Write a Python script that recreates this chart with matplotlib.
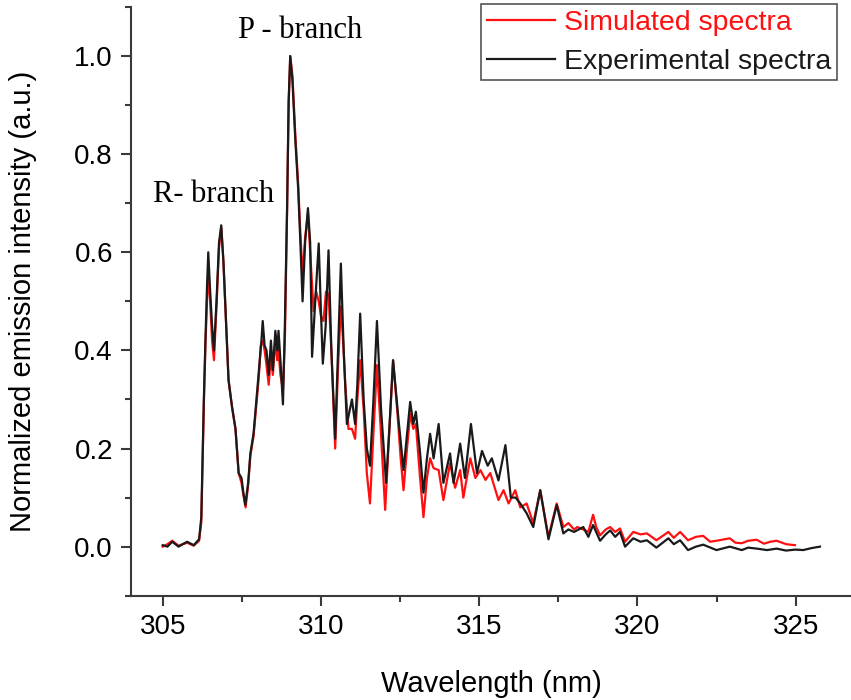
import numpy as np
import matplotlib.pyplot as plt

plt.rcParams['font.family'] = ['Liberation Sans', 'DejaVu Sans']

# experimental spectrum (black)
exp_wl = [305.00, 305.15, 305.30, 305.50, 305.77, 305.98, 306.15, 306.22, 306.26, 306.30,
          306.35, 306.40, 306.44, 306.50, 306.56, 306.62, 306.70, 306.78, 306.85, 306.92,
          306.98, 307.08, 307.19, 307.30, 307.40, 307.49, 307.55, 307.61, 307.70, 307.77,
          307.87, 308.03, 308.12, 308.16, 308.22, 308.28, 308.35, 308.42, 308.48, 308.56,
          308.62, 308.66, 308.72, 308.80, 308.86, 308.93, 308.98, 309.03, 309.10, 309.19,
          309.28, 309.35, 309.42, 309.50, 309.59, 309.66, 309.72, 309.82, 309.93, 310.00,
          310.06, 310.15, 310.24, 310.33, 310.45, 310.54, 310.63, 310.72, 310.82, 310.98,
          311.08, 311.15, 311.24, 311.35, 311.45, 311.55, 311.66, 311.77, 311.90, 312.06,
          312.17, 312.28, 312.45, 312.61, 312.72, 312.82, 312.92, 313.00, 313.12, 313.24,
          313.35, 313.45, 313.56, 313.72, 313.87, 314.08, 314.19, 314.30, 314.40, 314.55,
          314.74, 314.93, 315.09, 315.27, 315.40, 315.61, 315.83, 316.00, 316.15, 316.30,
          316.50, 316.71, 316.93, 317.19, 317.45, 317.66, 317.82, 318.00, 318.29, 318.45,
          318.60, 318.82, 319.00, 319.14, 319.30, 319.45, 319.61, 319.87, 320.10, 320.30,
          320.60, 320.98, 321.15, 321.35, 321.60, 321.85, 322.08, 322.50, 322.92, 323.30,
          323.50, 323.77, 324.10, 324.40, 324.70, 325.00, 325.24, 325.50, 325.77]
exp_int = [0.003, 0.000, 0.010, 0.000, 0.010, 0.003, 0.015, 0.060, 0.180, 0.300,
           0.420, 0.530, 0.600, 0.520, 0.450, 0.400, 0.500, 0.620, 0.655, 0.580,
           0.490, 0.340, 0.285, 0.240, 0.150, 0.140, 0.110, 0.085, 0.130, 0.190,
           0.230, 0.350, 0.420, 0.460, 0.410, 0.400, 0.350, 0.420, 0.360, 0.440,
           0.400, 0.440, 0.380, 0.290, 0.450, 0.690, 0.910, 1.000, 0.950, 0.830,
           0.730, 0.620, 0.500, 0.620, 0.690, 0.620, 0.387, 0.500, 0.618, 0.480,
           0.373, 0.450, 0.604, 0.400, 0.220, 0.400, 0.577, 0.400, 0.250, 0.300,
           0.250, 0.330, 0.475, 0.300, 0.200, 0.165, 0.300, 0.460, 0.280, 0.130,
           0.250, 0.380, 0.260, 0.156, 0.230, 0.295, 0.250, 0.275, 0.200, 0.110,
           0.180, 0.230, 0.180, 0.250, 0.130, 0.190, 0.130, 0.170, 0.210, 0.140,
           0.250, 0.150, 0.195, 0.165, 0.180, 0.135, 0.207, 0.100, 0.100, 0.088,
           0.068, 0.040, 0.115, 0.015, 0.085, 0.027, 0.035, 0.030, 0.040, 0.020,
           0.044, 0.012, 0.025, 0.033, 0.020, 0.030, 0.000, 0.017, 0.010, 0.013,
           -0.002, 0.017, 0.005, 0.013, -0.007, 0.000, 0.004, -0.007, 0.000, -0.007,
           -0.002, -0.004, -0.007, -0.004, -0.008, -0.006, -0.007, -0.003, 0.000]

# simulated spectrum (red)
sim_wl = [305.00, 305.15, 305.30, 305.50, 305.77, 305.98, 306.15, 306.22, 306.26, 306.30,
          306.35, 306.40, 306.44, 306.50, 306.56, 306.62, 306.70, 306.78, 306.85, 306.92,
          306.98, 307.08, 307.19, 307.30, 307.40, 307.49, 307.55, 307.62, 307.70, 307.77,
          307.87, 308.03, 308.10, 308.16, 308.22, 308.28, 308.35, 308.42, 308.48, 308.56,
          308.62, 308.66, 308.72, 308.80, 308.86, 308.93, 308.98, 309.03, 309.10, 309.19,
          309.28, 309.35, 309.42, 309.50, 309.59, 309.66, 309.77, 309.85, 309.93, 310.00,
          310.08, 310.16, 310.24, 310.33, 310.45, 310.55, 310.63, 310.70, 310.77, 310.87,
          310.98, 311.08, 311.15, 311.24, 311.35, 311.45, 311.55, 311.65, 311.77, 311.88,
          312.03, 312.15, 312.28, 312.42, 312.52, 312.61, 312.72, 312.82, 312.92, 313.00,
          313.12, 313.24, 313.35, 313.45, 313.56, 313.72, 313.87, 314.08, 314.24, 314.40,
          314.50, 314.72, 314.88, 315.04, 315.20, 315.35, 315.61, 315.77, 315.93, 316.14,
          316.30, 316.50, 316.71, 316.93, 317.19, 317.45, 317.66, 317.82, 318.00, 318.10,
          318.29, 318.45, 318.60, 318.70, 318.82, 319.00, 319.14, 319.30, 319.45, 319.61,
          319.87, 320.10, 320.30, 320.60, 320.98, 321.15, 321.35, 321.60, 321.85, 322.08,
          322.30, 322.50, 322.92, 323.10, 323.30, 323.50, 323.77, 324.00, 324.20, 324.40,
          324.70, 324.98]
sim_int = [0.000, 0.005, 0.012, 0.002, 0.008, 0.002, 0.012, 0.050, 0.170, 0.290,
           0.410, 0.500, 0.560, 0.500, 0.420, 0.380, 0.490, 0.610, 0.650, 0.580,
           0.490, 0.340, 0.285, 0.240, 0.150, 0.130, 0.105, 0.080, 0.125, 0.185,
           0.225, 0.340, 0.410, 0.420, 0.400, 0.370, 0.330, 0.390, 0.350, 0.420,
           0.380, 0.400, 0.350, 0.320, 0.420, 0.680, 0.900, 1.000, 0.960, 0.840,
           0.740, 0.640, 0.550, 0.630, 0.680, 0.600, 0.480, 0.520, 0.500, 0.470,
           0.460, 0.520, 0.515, 0.400, 0.200, 0.380, 0.490, 0.420, 0.330, 0.240,
           0.240, 0.220, 0.300, 0.380, 0.280, 0.150, 0.088, 0.220, 0.370, 0.250,
           0.075, 0.220, 0.380, 0.270, 0.180, 0.115, 0.200, 0.270, 0.240, 0.250,
           0.150, 0.060, 0.140, 0.180, 0.160, 0.156, 0.095, 0.170, 0.120, 0.156,
           0.100, 0.180, 0.140, 0.156, 0.136, 0.150, 0.095, 0.115, 0.088, 0.115,
           0.080, 0.088, 0.048, 0.115, 0.020, 0.088, 0.040, 0.048, 0.035, 0.040,
           0.035, 0.030, 0.065, 0.040, 0.023, 0.035, 0.040, 0.030, 0.037, 0.010,
           0.030, 0.025, 0.027, 0.013, 0.030, 0.018, 0.030, 0.013, 0.020, 0.022,
           0.010, 0.012, 0.017, 0.008, 0.007, 0.012, 0.014, 0.006, 0.010, 0.012,
           0.005, 0.003]

fig = plt.figure(figsize=(8.51, 7.0), dpi=100)
ax = fig.add_axes([0.154, 0.149, 0.846, 0.841])

ax.plot(sim_wl, sim_int, color='#ff1010', lw=1.6, label='Simulated spectra')
ax.plot(exp_wl, exp_int, color='#1a1a1a', lw=1.6, label='Experimental spectra')

ax.set_xlim(304, 326.75)
ax.set_ylim(-0.1, 1.1)
ax.set_xticks([305, 310, 315, 320, 325])
ax.set_xticks(np.arange(307.5, 326, 5), minor=True)
ax.set_yticks([0.0, 0.2, 0.4, 0.6, 0.8, 1.0])
ax.set_yticks([-0.1, 0.1, 0.3, 0.5, 0.7, 0.9, 1.1], minor=True)
ax.set_yticklabels(['0.0', '0.2', '0.4', '0.6', '0.8', '1.0'])

for s in ['top', 'right']:
    ax.spines[s].set_visible(False)
for s in ['left', 'bottom']:
    ax.spines[s].set_linewidth(1.5)
    ax.spines[s].set_color('#3a3a3a')
ax.tick_params(which='major', direction='out', length=7, width=1.5, color='#3a3a3a',
               labelsize=20, pad=6)
ax.tick_params(which='minor', direction='out', length=4.5, width=1.5, color='#3a3a3a')

ax.set_xlabel('Wavelength (nm)', fontsize=21, labelpad=22)
ax.set_ylabel('Normalized emission intensity (a.u.)', fontsize=21, labelpad=27)

ax.text(309.35, 1.036, 'P - branch', family='Liberation Serif', fontsize=22,
        ha='center', va='baseline')
ax.text(306.6, 0.702, 'R- branch', family='Liberation Serif', fontsize=22,
        ha='center', va='baseline')

leg = fig.legend(loc='upper left', bbox_to_anchor=(481 / 851, 1 - 4 / 700),
                 fontsize=20.5, frameon=True, fancybox=False, framealpha=1,
                 edgecolor='#555555', handlelength=2.4, handletextpad=0.3,
                 labelspacing=0.45, borderpad=0.2, borderaxespad=0)
leg.get_frame().set_linewidth(1.2)
for txt, col in zip(leg.get_texts(), ['#ff1010', '#1a1a1a']):
    txt.set_color(col)

fig.savefig('out.png', dpi=100)
